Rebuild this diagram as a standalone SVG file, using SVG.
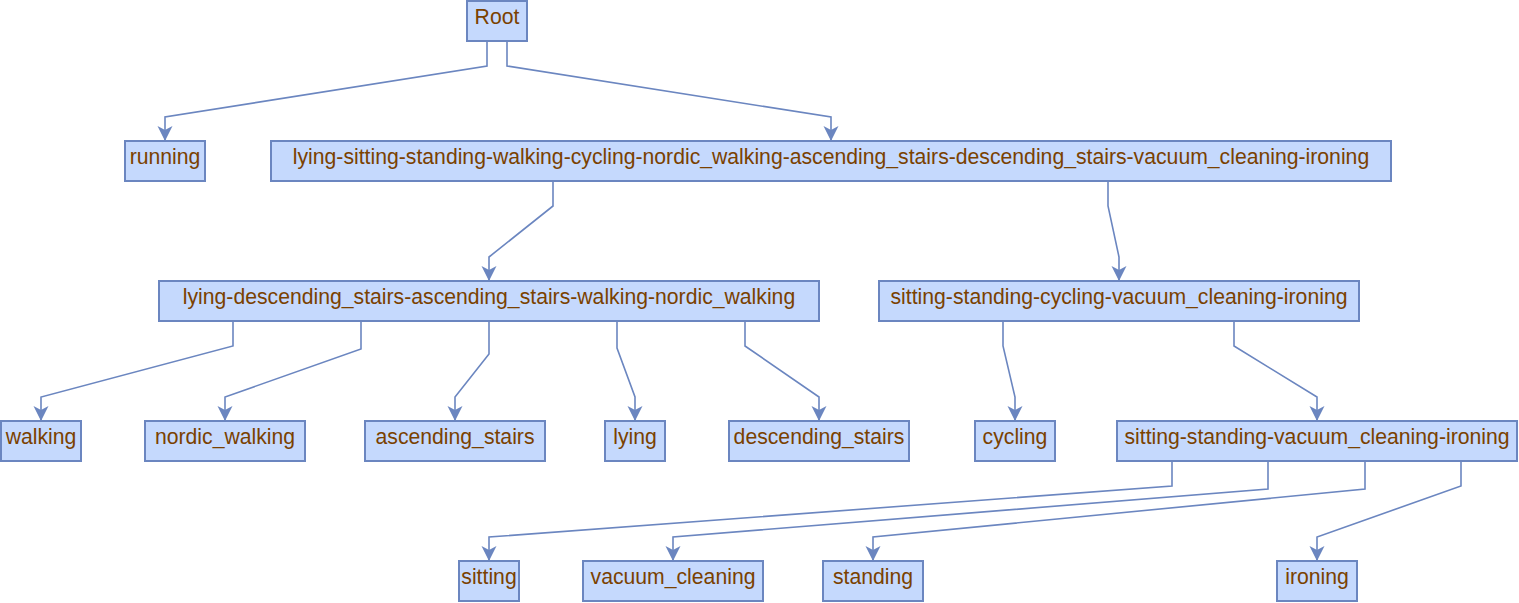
<svg xmlns="http://www.w3.org/2000/svg" width="1519" height="603" viewBox="0 0 1519 603">
<style>
.n rect{fill:#c5d9fd;stroke:#6b86c0;stroke-width:2}
.n text{font-family:"Liberation Sans",Arial,sans-serif;font-size:21.2px;fill:#7a4100;text-anchor:middle}
.e path{fill:none;stroke:#6b86c0;stroke-width:1.6;marker-end:url(#arr)}
</style>
<defs>
<marker id="arr" markerUnits="userSpaceOnUse" markerWidth="16" markerHeight="16" viewBox="0 0 16 16" refX="15" refY="8" orient="auto">
<path d="M0,0.5 L15,8 L0,15.5 L4,8 Z" fill="#6b86c0"/>
</marker>
</defs>
<g class="e" id="connectors">
<path d="M487,41 V66 L165,117 V141"/>
<path d="M507,41 V66 L831,117 V141"/>
<path d="M553,181 V206 L489,257 V281"/>
<path d="M1108,181 V206 L1119,257 V281"/>
<path d="M233,321 V346 L41,397 V421"/>
<path d="M361,321 V349 L225,397 V421"/>
<path d="M489,321 V354 L455,397 V421"/>
<path d="M617,321 V348 L635,397 V421"/>
<path d="M745,321 V346 L819,397 V421"/>
<path d="M1003,321 V346 L1015,397 V421"/>
<path d="M1234,321 V346 L1317,397 V421"/>
<path d="M1172,461 V486 L489,537 V561"/>
<path d="M1268,461 V489 L673,537 V561"/>
<path d="M1365,461 V489 L873,537 V561"/>
<path d="M1461,461 V486 L1317,537 V561"/>
</g>
<g class="n" id="root"><rect x="467" y="1" width="60" height="40"/><text x="497" y="24">Root</text></g>
<g class="n" id="running"><rect x="125" y="141" width="80" height="40"/><text x="165" y="164">running</text></g>
<g class="n" id="all_others"><rect x="271" y="141" width="1120" height="40"/><text x="831" y="164">lying-sitting-standing-walking-cycling-nordic_walking-ascending_stairs-descending_stairs-vacuum_cleaning-ironing</text></g>
<g class="n" id="group_a"><rect x="159" y="281" width="660" height="40"/><text x="489" y="304">lying-descending_stairs-ascending_stairs-walking-nordic_walking</text></g>
<g class="n" id="group_b"><rect x="879" y="281" width="480" height="40"/><text x="1119" y="304">sitting-standing-cycling-vacuum_cleaning-ironing</text></g>
<g class="n" id="walking"><rect x="1" y="421" width="80" height="40"/><text x="41" y="444">walking</text></g>
<g class="n" id="nordic_walking"><rect x="145" y="421" width="160" height="40"/><text x="225" y="444">nordic_walking</text></g>
<g class="n" id="ascending_stairs"><rect x="365" y="421" width="180" height="40"/><text x="455" y="444">ascending_stairs</text></g>
<g class="n" id="lying"><rect x="605" y="421" width="60" height="40"/><text x="635" y="444">lying</text></g>
<g class="n" id="descending_stairs"><rect x="729" y="421" width="180" height="40"/><text x="819" y="444">descending_stairs</text></g>
<g class="n" id="cycling"><rect x="975" y="421" width="80" height="40"/><text x="1015" y="444">cycling</text></g>
<g class="n" id="group_c"><rect x="1117" y="421" width="400" height="40"/><text x="1317" y="444">sitting-standing-vacuum_cleaning-ironing</text></g>
<g class="n" id="sitting"><rect x="459" y="561" width="60" height="40"/><text x="489" y="584">sitting</text></g>
<g class="n" id="vacuum_cleaning"><rect x="583" y="561" width="180" height="40"/><text x="673" y="584">vacuum_cleaning</text></g>
<g class="n" id="standing"><rect x="823" y="561" width="100" height="40"/><text x="873" y="584">standing</text></g>
<g class="n" id="ironing"><rect x="1277" y="561" width="80" height="40"/><text x="1317" y="584">ironing</text></g>
</svg>
